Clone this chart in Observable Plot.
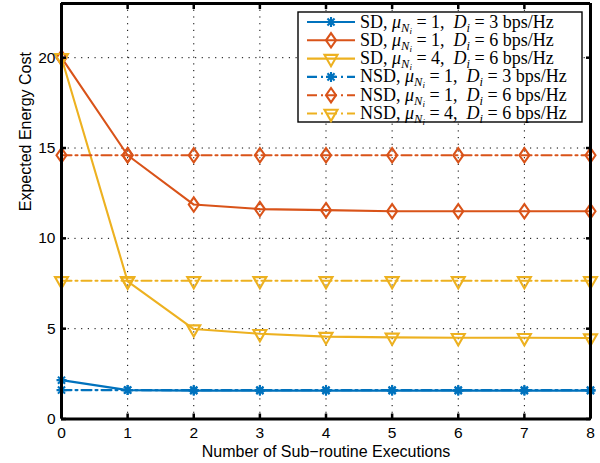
<!DOCTYPE html>
<html><head><meta charset="utf-8">
<script src="https://cdn.jsdelivr.net/npm/d3@7"></script>
<script src="https://cdn.jsdelivr.net/npm/@observablehq/plot@0.6"></script>
<style>body{margin:0;background:#fff} svg{display:block}</style>
</head><body><div id="chart"></div>
<script>
// ---- data ----
const executions = [0, 1, 2, 3, 4, 5, 6, 7, 8];
const sdMu1D3  = [2.15, 1.6, 1.57, 1.57, 1.57, 1.57, 1.57, 1.57, 1.57];
const sdMu1D6  = [20, 14.6, 11.87, 11.62, 11.56, 11.5, 11.5, 11.5, 11.5];
const sdMu4D6  = [20, 7.62, 4.98, 4.72, 4.56, 4.52, 4.5, 4.5, 4.48];
const nsdMu1D3 = [1.6, 1.6, 1.6, 1.6, 1.6, 1.6, 1.6, 1.6, 1.6];
const nsdMu1D6 = [14.6, 14.6, 14.6, 14.6, 14.6, 14.6, 14.6, 14.6, 14.6];
const nsdMu4D6 = [7.65, 7.65, 7.65, 7.65, 7.65, 7.65, 7.65, 7.65, 7.65];
const schemes = ["SD", "SD", "SD", "NSD", "NSD", "NSD"];
const muValues = [1, 1, 4, 1, 1, 4];
const dValues = [3, 6, 6, 3, 6, 6];
const xTicks = [0, 1, 2, 3, 4, 5, 6, 7, 8];
const yTicks = [0, 5, 10, 15, 20];
const xDomain = [0, 8];
const yDomain = [0, 23];
const xLabel = "Number of Sub\u2212routine Executions";
const yLabel = "Expected Energy Cost";

// ---- styles ----
const blue = "#0072BD", orange = "#D95319", yellow = "#EDB120";
const dashDot = "10,4,2,4";
const asterisk = {draw(ctx) {
  const r = 5, d = r * Math.SQRT1_2;
  ctx.moveTo(-r, 0); ctx.lineTo(r, 0);
  ctx.moveTo(0, -r); ctx.lineTo(0, r);
  ctx.moveTo(-d, -d); ctx.lineTo(d, d);
  ctx.moveTo(-d, d); ctx.lineTo(d, -d);
}};
const diamond = {draw(ctx) {
  ctx.moveTo(0, -7.2); ctx.lineTo(5, 0); ctx.lineTo(0, 7.2); ctx.lineTo(-5, 0); ctx.closePath();
}};
const triDown = {draw(ctx) {
  ctx.moveTo(-6.5, -3.7); ctx.lineTo(6.5, -3.7); ctx.lineTo(0, 7.6); ctx.closePath();
}};

const seriesValues = [sdMu1D3, sdMu1D6, sdMu4D6, nsdMu1D3, nsdMu1D6, nsdMu4D6];
const seriesStyle = [
  {color: blue, symbol: asterisk, dash: null},
  {color: orange, symbol: diamond, dash: null},
  {color: yellow, symbol: triDown, dash: null},
  {color: blue, symbol: asterisk, dash: dashDot},
  {color: orange, symbol: diamond, dash: dashDot},
  {color: yellow, symbol: triDown, dash: dashDot}
];
const series = seriesValues.map((vals, i) => ({
  i, ...seriesStyle[i],
  data: executions.map((x, j) => ({x, y: vals[j]}))
}));

const dataMarks = [];
for (const s of series) {
  dataMarks.push(Plot.line(s.data, {x: "x", y: "y", stroke: s.color, strokeWidth: 2.1,
    strokeDasharray: s.dash ?? undefined, strokeLinejoin: "round"}));
  dataMarks.push(Plot.dot(s.data, {x: "x", y: "y", symbol: s.symbol, stroke: s.color,
    fill: "none", strokeWidth: 2.1, r: 5}));
}

const chart = Plot.plot({
  width: 600, height: 463,
  marginLeft: 61, marginRight: 10, marginTop: 3, marginBottom: 44.5,
  style: {fontFamily: "'Liberation Sans', Arial, Helvetica, sans-serif", fontSize: "15.5px", color: "#000", background: "#fff"},
  x: {domain: xDomain},
  y: {domain: yDomain},
  marks: [
    Plot.ruleX(xTicks.slice(1, -1), {stroke: "#000", strokeWidth: 1, strokeDasharray: "1.2,5.5"}),
    Plot.ruleY(yTicks.slice(1), {stroke: "#000", strokeWidth: 1, strokeDasharray: "1.2,5.5"}),
    ...dataMarks,
    Plot.axisX({anchor: "bottom", ticks: xTicks, tickSize: -5, tickPadding: 13, tickFormat: d3.format("d"), label: null, strokeWidth: 2.5}),
    Plot.axisX({anchor: "top", ticks: xTicks, tickSize: -5, tickFormat: () => "", label: null, strokeWidth: 2.5}),
    Plot.axisY({anchor: "left", ticks: yTicks, tickSize: -5, tickPadding: 11, tickFormat: d3.format("d"), label: null, strokeWidth: 2.5}),
    Plot.axisY({anchor: "right", ticks: yTicks, tickSize: -5, tickFormat: () => "", label: null, strokeWidth: 2.5}),
    Plot.ruleX(xDomain, {stroke: "#000", strokeWidth: 3}),
    Plot.ruleY(yDomain, {stroke: "#000", strokeWidth: 3}),
    Plot.text([xLabel], {frameAnchor: "bottom", dy: 33, lineAnchor: "middle", fontSize: 16}),
    Plot.text([yLabel], {frameAnchor: "left", dx: -36, rotate: -90, lineAnchor: "middle", fontSize: 16})
  ]
});

// ---- legend ----
const svg = d3.select(chart);
const lg = svg.append("g").attr("text-anchor", "start");
const bx = 298, by = 12, bw = 284, bh = 110;
lg.append("rect").attr("x", bx).attr("y", by).attr("width", bw).attr("height", bh)
  .attr("fill", "#fff").attr("stroke", "#000").attr("stroke-width", 1.4);
const serif = "'Liberation Serif', 'DejaVu Serif', 'Times New Roman', serif";
series.forEach((s, k) => {
  const cy = 22 + k * 18.3;
  lg.append("line").attr("x1", 307).attr("x2", 355).attr("y1", cy).attr("y2", cy)
    .attr("stroke", s.color).attr("stroke-width", 2.1).attr("stroke-dasharray", s.dash);
  const p = d3.path(); s.symbol.draw(p);
  lg.append("path").attr("d", p.toString()).attr("transform", `translate(331,${cy})`)
    .attr("fill", "none").attr("stroke", s.color).attr("stroke-width", 2.1);
  const t = lg.append("text").attr("x", 360).attr("y", cy + 5.5).attr("text-anchor", "start")
    .attr("font-family", serif).attr("font-size", 18).attr("fill", "#000")
    .style("white-space", "pre");
  t.append("tspan").text(`${schemes[k]}, `);
  t.append("tspan").attr("font-style", "italic").text("\u03bc");
  t.append("tspan").attr("font-style", "italic").attr("font-size", 12.5).attr("dy", 4).text("N");
  t.append("tspan").attr("font-style", "italic").attr("font-size", 9).attr("dy", 2).text("i");
  t.append("tspan").attr("font-size", 18).attr("dy", -6).text(` = ${muValues[k]},  `);
  t.append("tspan").attr("font-style", "italic").text("D");
  t.append("tspan").attr("font-style", "italic").attr("font-size", 12.5).attr("dy", 4).text("i");
  t.append("tspan").attr("font-size", 18).attr("dy", -4).text(` = ${dValues[k]} bps/Hz`);
});

document.getElementById("chart").appendChild(chart);
</script>
</body></html>
